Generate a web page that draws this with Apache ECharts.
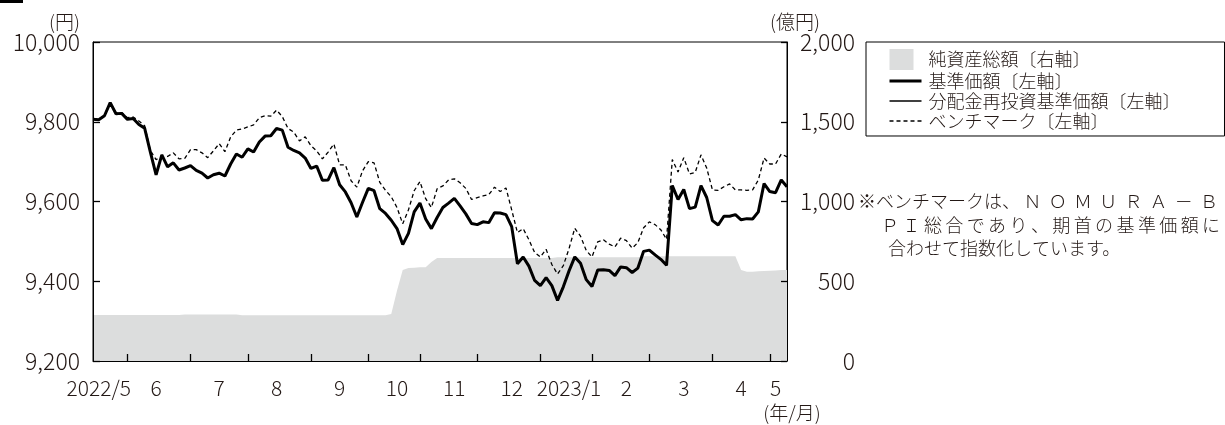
<!DOCTYPE html>
<html>
<head>
<meta charset="utf-8">
<script src="https://cdn.jsdelivr.net/npm/echarts@6/dist/echarts.min.js"></script>
<style>
  html, body { margin: 0; padding: 0; background: #fff; }
  #chart { width: 1225px; height: 425px; }
</style>
</head>
<body>
<div id="chart"></div>
<script>
// 月ラベルと各月のサンプル数（約2営業日ごと）
const months = ['2022/5', '6', '7', '8', '9', '10', '11', '12', '2023/1', '2', '3', '4', '5'];
const monthSamples = [6, 11, 10, 11, 10, 9, 10, 11, 9, 10, 11, 10, 4];
const monthLabelAt = [1, 5, 5, 5, 5, 5, 6, 6, 5, 6, 6, 5, 1];

// 基準価額（円）
const nav = [
  9806, 9805, 9815, 9848, 9820, 9821, 9806, 9808, 9793, 9784,
  9724, 9667, 9717, 9687, 9697, 9679, 9684, 9690, 9678, 9671,
  9659, 9667, 9671, 9664, 9694, 9719, 9711, 9732, 9724, 9749,
  9764, 9765, 9783, 9779, 9736, 9728, 9722, 9709, 9683, 9689,
  9653, 9654, 9685, 9642, 9624, 9597, 9561, 9598, 9633, 9627,
  9582, 9570, 9553, 9532, 9492, 9520, 9574, 9596, 9556, 9532,
  9560, 9585, 9596, 9608, 9589, 9569, 9545, 9542, 9549, 9547,
  9572, 9571, 9567, 9537, 9444, 9461, 9438, 9402, 9389, 9409,
  9389, 9352, 9386, 9426, 9461, 9445, 9404, 9387, 9428, 9429,
  9427, 9414, 9436, 9434, 9422, 9433, 9475, 9478, 9466, 9455,
  9440, 9640, 9605, 9630, 9582, 9586, 9640, 9610, 9552, 9541,
  9563, 9563, 9567, 9554, 9557, 9556, 9574, 9645, 9625, 9622,
  9654, 9637
];
// 分配金再投資基準価額（円）…分配実績なしのため基準価額と同値
const reinvest = nav.slice();
// ベンチマーク（円）
const benchmark = [
  9806, 9806, 9816, 9847, 9823, 9823, 9810, 9812, 9802, 9790,
  9728, 9705, 9712, 9713, 9722, 9707, 9708, 9730, 9730, 9722,
  9710, 9727, 9745, 9725, 9762, 9779, 9782, 9787, 9792, 9810,
  9815, 9814, 9829, 9813, 9783, 9774, 9752, 9762, 9740, 9727,
  9707, 9724, 9744, 9692, 9692, 9652, 9636, 9677, 9700, 9697,
  9648, 9628, 9612, 9585, 9544, 9579, 9627, 9650, 9607, 9585,
  9632, 9639, 9654, 9657, 9647, 9633, 9605, 9610, 9614, 9617,
  9636, 9625, 9634, 9579, 9522, 9532, 9504, 9472, 9461, 9480,
  9442, 9418, 9439, 9482, 9533, 9513, 9477, 9461, 9499, 9504,
  9493, 9486, 9508, 9502, 9483, 9497, 9534, 9549, 9542, 9529,
  9505, 9705, 9674, 9710, 9669, 9673, 9717, 9684, 9629, 9628,
  9637, 9644, 9629, 9629, 9628, 9629, 9654, 9709, 9694, 9694,
  9719, 9712
];
// 純資産総額（億円）
const netAssets = [
  288, 288, 288, 288, 288, 288, 288, 288, 288, 288,
  288, 288, 288, 288, 288, 288, 292, 292, 292, 292,
  292, 292, 292, 292, 292, 292, 287, 287, 287, 287,
  287, 287, 287, 287, 287, 287, 287, 287, 287, 287,
  287, 287, 287, 287, 287, 287, 287, 287, 287, 287,
  287, 287, 295, 440, 570, 583, 585, 587, 588, 620,
  645, 645, 645, 645, 645, 645, 645, 645, 645, 645,
  645, 645, 645, 645, 645, 645, 645, 645, 645, 645,
  645, 650, 650, 650, 650, 650, 650, 650, 650, 650,
  650, 650, 650, 650, 650, 650, 657, 657, 657, 657,
  657, 657, 657, 657, 657, 657, 657, 657, 657, 657,
  657, 657, 657, 570, 560, 560, 562, 564, 566, 568,
  570, 570
];

const FONT = '"Noto Sans CJK JP", "Noto Sans", sans-serif';
const INK = '#231815';

// カテゴリ（月＋通し番号）と目盛・ラベル位置
const cats = [];
const tickAt = {};
const labelAt = {};
let n = 0;
months.forEach(function (m, k) {
  if (k > 0) tickAt[n] = true;
  labelAt[n + monthLabelAt[k]] = m;
  for (let j = 0; j < monthSamples[k]; j++) cats.push(m + '-' + j);
  n += monthSamples[k];
});

const names = ['純資産総額〔右軸〕', '基準価額〔左軸〕', '分配金再投資基準価額〔左軸〕', 'ベンチマーク〔左軸〕'];

function spaced(str, w) {
  return str.split('').map(function (c) { return '{' + w + '|' + c + '}'; }).join('');
}

var myChart = echarts.init(document.getElementById('chart'));
myChart.setOption({
  animation: false,
  textStyle: { fontFamily: FONT, fontWeight: 300 },
  grid: {
    left: 93, right: 438, top: 42, bottom: 64,
    show: true, borderColor: '#000', borderWidth: 1
  },
  legend: {
    orient: 'vertical',
    left: 866, top: 42,
    padding: [7, 44, 6, 22],
    borderColor: '#000', borderWidth: 1,
    itemWidth: 32, itemHeight: 21, itemGap: 2,
    selectedMode: false,
    textStyle: { fontFamily: FONT, fontSize: 18, fontWeight: 300, color: INK, padding: [0, 0, 0, 2] },
    data: [
      { name: names[0], icon: 'path://M0,0H24V21H0ZM32,21L32,21', itemStyle: { color: '#dcdddd' } },
      { name: names[1], itemStyle: { opacity: 0 }, lineStyle: { color: '#000', width: 3, type: 'solid' } },
      { name: names[2], itemStyle: { opacity: 0 }, lineStyle: { color: '#000', width: 1.3, type: 'solid' } },
      { name: names[3], itemStyle: { opacity: 0 }, lineStyle: { color: '#000', width: 1.3, type: [4, 3] } }
    ]
  },
  xAxis: {
    type: 'category',
    z: 10,
    boundaryGap: false,
    data: cats,
    axisLine: { show: true, lineStyle: { color: '#000', width: 1 } },
    axisTick: {
      show: true, inside: true, length: 7,
      lineStyle: { color: '#000', width: 1.3 },
      interval: function (idx) { return !!tickAt[idx]; }
    },
    axisLabel: {
      margin: 17, fontSize: 21, color: INK, fontFamily: FONT, fontWeight: 300,
      interval: function (idx) { return labelAt[idx] !== undefined; },
      formatter: function (v, idx) { return labelAt[idx] || ''; }
    },
    splitLine: { show: false }
  },
  yAxis: [
    {
      type: 'value', position: 'left', z: 10,
      min: 9200, max: 10000, interval: 200,
      axisLine: { show: true, lineStyle: { color: '#000', width: 1 } },
      axisTick: { show: true, inside: true, length: 7, lineStyle: { color: '#000', width: 1.3 } },
      axisLabel: { margin: 13, fontSize: 23, color: INK, fontFamily: FONT, fontWeight: 300 },
      splitLine: { show: false }
    },
    {
      type: 'value', position: 'right', z: 10,
      min: 0, max: 2000, interval: 500,
      axisLine: { show: true, lineStyle: { color: '#000', width: 1 } },
      axisTick: { show: true, inside: true, length: 6, lineStyle: { color: '#000', width: 1.3 } },
      axisLabel: { margin: 68, align: 'right', fontSize: 23, color: INK, fontFamily: FONT, fontWeight: 300 },
      splitLine: { show: false }
    }
  ],
  series: [
    {
      name: names[0], type: 'line', yAxisIndex: 1, data: netAssets,
      symbol: 'none', silent: true, z: 1,
      lineStyle: { width: 0 },
      itemStyle: { color: '#dcdddd' },
      areaStyle: { color: '#dcdddd', opacity: 1 }
    },
    {
      name: names[3], type: 'line', yAxisIndex: 0, data: benchmark,
      symbol: 'none', silent: true,
      itemStyle: { color: '#000' },
      lineStyle: { color: '#000', width: 1.3, type: [4, 3] }
    },
    {
      name: names[1], type: 'line', yAxisIndex: 0, data: nav,
      symbol: 'none', silent: true,
      itemStyle: { color: '#000' },
      lineStyle: { color: '#000', width: 3 }
    },
    {
      name: names[2], type: 'line', yAxisIndex: 0, data: reinvest,
      symbol: 'none', silent: true,
      itemStyle: { color: '#000' },
      lineStyle: { color: '#000', width: 1.3 }
    }
  ],
  graphic: [
    { type: 'rect', left: 0, top: 0, shape: { width: 23, height: 3 }, style: { fill: '#000' } },
    { type: 'text', x: 80, y: 31, style: { text: '(円)', fontFamily: FONT, fontWeight: 300, fontSize: 19, fill: INK, align: 'right', verticalAlign: 'bottom' } },
    { type: 'text', x: 795, y: 31, style: { text: '(億円)', fontFamily: FONT, fontWeight: 300, fontSize: 19, fill: INK, align: 'center', verticalAlign: 'bottom' } },
    { type: 'text', x: 792, y: 413, style: { text: '(年/月)', fontFamily: FONT, fontWeight: 300, fontSize: 19, fill: INK, align: 'center', verticalAlign: 'middle' } },
    {
      type: 'text', x: 858, y: 201,
      style: {
        text: '※ベンチマークは、' + spaced('ＮＯＭＵＲＡ－Ｂ', 'a'),
        fontFamily: FONT, fontWeight: 300, fontSize: 18, fill: INK, verticalAlign: 'middle',
        rich: { a: { width: 25.2, align: 'center', fontFamily: FONT, fontWeight: 300, fontSize: 18, fill: INK } }
      }
    },
    {
      type: 'text', x: 858, y: 225,
      style: {
        text: spaced('　ＰＩ総合であり、期首の基準価額に', 'b'),
        fontFamily: FONT, fontWeight: 300, fontSize: 18, fill: INK, verticalAlign: 'middle',
        rich: { b: { width: 21.4, align: 'center', fontFamily: FONT, fontWeight: 300, fontSize: 18, fill: INK } }
      }
    },
    {
      type: 'text', x: 870, y: 248,
      style: { text: '　合わせて指数化しています。', fontFamily: FONT, fontWeight: 300, fontSize: 18, fill: INK, verticalAlign: 'middle' }
    }
  ]
});
window.addEventListener('resize', function () { myChart.resize(); });
</script>
</body>
</html>
